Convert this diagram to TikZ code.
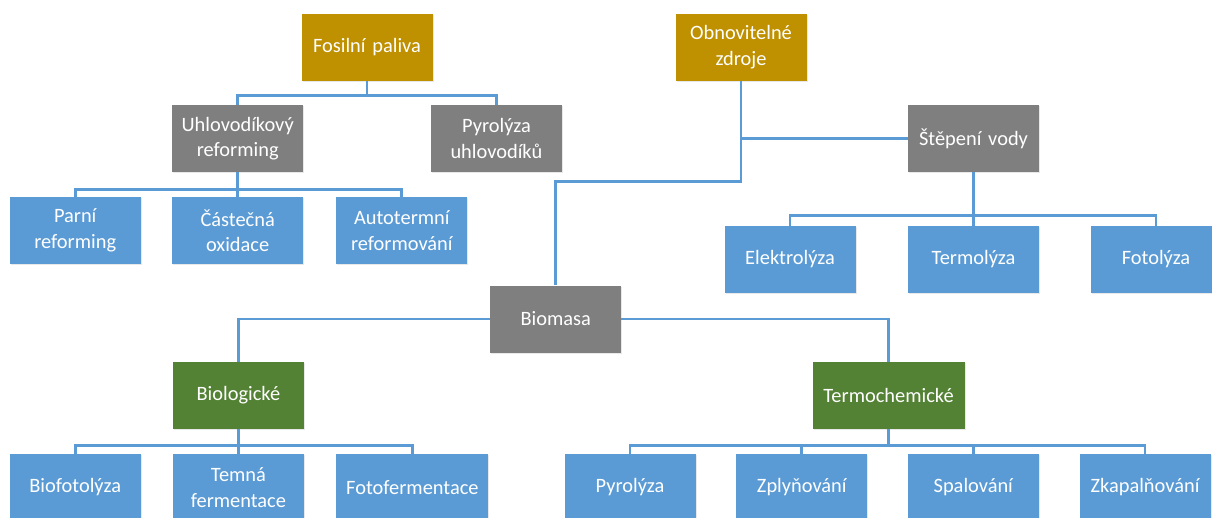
\documentclass[tikz,border=0pt]{standalone}
\usepackage{fontspec}
\setmainfont{Carlito}
\usetikzlibrary{shadows}
\definecolor{gold}{HTML}{BF9000}
\definecolor{greybox}{HTML}{7F7F7F}
\definecolor{bluebox}{HTML}{5B9BD5}
\definecolor{greenbox}{HTML}{548235}
\definecolor{linkblue}{HTML}{5B9BD5}
\tikzset{
  box/.style={rectangle, minimum width=131pt, minimum height=67pt, inner sep=0pt,
    text=white, align=center, text width=125pt,
    font=\fontsize{20.4pt}{25.5pt}\selectfont,
    drop shadow={opacity=0.18, shadow xshift=1pt, shadow yshift=-1.2pt}},
  wide/.style={minimum width=152pt, text width=146pt},
  goldbox/.style={box, fill=gold},
  graybox/.style={box, fill=greybox},
  bluebx/.style={box, fill=bluebox},
  greenbx/.style={box, fill=greenbox},
  link/.style={draw=linkblue, line width=2.8pt}
}
\begin{document}
\begin{tikzpicture}[x=1pt,y=-1pt]
\useasboundingbox (0,0) rectangle (1212,517);
\begin{scope}
\clip (0,0) rectangle (1212,517);
% connectors (drawn first, boxes on top)
\path (367,47) coordinate (fosc) (741,47) coordinate (obnc);
% top level
\node[goldbox] (fos) at (367,47) {Fosilní paliva};
\node[goldbox] (obn) at (741,47) {Obnovitelné\\zdroje};
% second level
\node[graybox] (uhl) at (237.7,138.5) {Uhlovodíkový\\reforming};
\node[graybox] (pyu) at (496.5,138.5) {Pyrolýza\\uhlovodíků};
\node[graybox] (stv) at (973.5,138.5) {Štěpení vody};
% third level
\node[bluebx] (parni) at (75.2,230.5) {Parní\\reforming};
\node[bluebx] (cast) at (237.7,230.5) {Částečná\\oxidace};
\node[bluebx] (auto) at (401.8,230.5) {Autotermní\\reformování};
\node[bluebx] (ele) at (790,259.5) {Elektrolýza};
\node[bluebx] (ter) at (973.5,259.5) {Termolýza};
\node[bluebx] (fot) at (1156,259.5) {Fotolýza};
% biomass
\node[graybox] (bio) at (555.7,319) {Biomasa};
\node[greenbx] (biol) at (238.4,395.2) {Biologické};
\node[greenbx, wide] (terc) at (888.5,395.2) {Termochemické};
% bottom level
\node[bluebx] (biof) at (75.2,487.5) {Biofotolýza};
\node[bluebx] (temn) at (238.4,487.5) {Temná\\fermentace};
\node[bluebx, wide] (fotf) at (412.4,487.5) {Fotofermentace};
\node[bluebx] (pyr) at (630,487.5) {Pyrolýza};
\node[bluebx] (zpl) at (801.8,487.5) {Zplyňování};
\node[bluebx] (spa) at (973.3,487.5) {Spalování};
\node[bluebx] (zka) at (1145,487.5) {Zkapalňování};
% connectors
\draw[link] (fos.south) -- ++(0,15) -| (uhl.north);
\draw[link] (fos.south) -- ++(0,15) -| (pyu.north);
\draw[link] (uhl.south) -- ++(0,17) -| (parni.north);
\draw[link] (uhl.south) -- ++(0,17) -| (cast.north);
\draw[link] (uhl.south) -- ++(0,17) -| (auto.north);
\draw[link] (obn.south) |- (stv.west);
\draw[link] (obn.south) -- ++(0,101) -| (bio.north);
\draw[link] (stv.south) -- ++(0,43) -| (ele.north);
\draw[link] (stv.south) -- ++(0,43) -| (ter.north);
\draw[link] (stv.south) -- ++(0,43) -| (fot.north);
\draw[link] (bio.west) -| (biol.north);
\draw[link] (bio.east) -| (terc.north);
\draw[link] (biol.south) -- ++(0,16.5) -| (biof.north);
\draw[link] (biol.south) -- ++(0,16.5) -| (temn.north);
\draw[link] (biol.south) -- ++(0,16.5) -| (fotf.north);
\draw[link] (terc.south) -- ++(0,16.5) -| (pyr.north);
\draw[link] (terc.south) -- ++(0,16.5) -| (zpl.north);
\draw[link] (terc.south) -- ++(0,16.5) -| (spa.north);
\draw[link] (terc.south) -- ++(0,16.5) -| (zka.north);
\end{scope}
\end{tikzpicture}
\end{document}
